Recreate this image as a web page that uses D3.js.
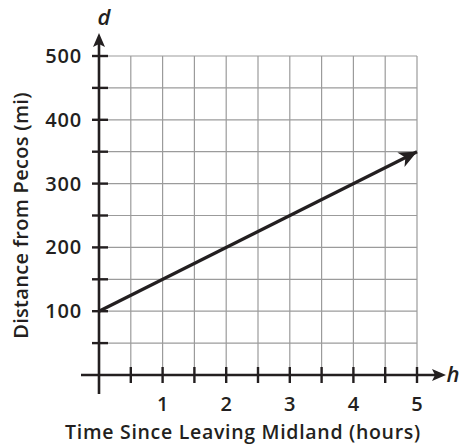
<!DOCTYPE html>
<html><head><meta charset="utf-8">
<script src="https://cdn.jsdelivr.net/npm/d3@7"></script>
<style>body{margin:0;background:#fff}svg{display:block}text{font-family:"Open Sans",sans-serif;fill:#231f20}</style>
</head><body><svg id="c" width="459" height="446"></svg>
<script>
const xTicks = [1, 2, 3, 4, 5];
const yTicks = [100, 200, 300, 400, 500];
const lineH = [0, 5];
const lineD = [100, 350];
const xLabel = "Time Since Leaving Midland (hours)";
const yLabel = "Distance from Pecos (mi)";

const svg = d3.select("#c");
const x = d3.scaleLinear().domain([0, 5]).range([99, 417]);
const y = d3.scaleLinear().domain([0, 500]).range([375, 56]);
const ink = "#231f20";

const g = svg.append("g");
const xg = d3.range(1, 11).map(i => i * 0.5);
const yg = d3.range(1, 11).map(i => i * 50);
g.selectAll(".vg").data(xg).enter().append("line")
  .attr("x1", d => x(d)).attr("x2", d => x(d)).attr("y1", y(0)).attr("y2", y(500))
  .attr("stroke", "#9b9b9b").attr("stroke-width", 1.2);
g.selectAll(".hg").data(yg).enter().append("line")
  .attr("x1", x(0)).attr("x2", x(5)).attr("y1", d => y(d)).attr("y2", d => y(d))
  .attr("stroke", "#9b9b9b").attr("stroke-width", 1.2);

// axes
g.append("line").attr("x1", 81).attr("x2", 436).attr("y1", y(0)).attr("y2", y(0)).attr("stroke", ink).attr("stroke-width", 2.6);
g.append("path").attr("d", `M446,${y(0)} L432,${y(0)-6} L435,${y(0)} L432,${y(0)+6} Z`).attr("fill", ink);
g.append("line").attr("x1", x(0)).attr("x2", x(0)).attr("y1", 394).attr("y2", 44).attr("stroke", ink).attr("stroke-width", 2.6);
g.append("path").attr("d", `M${x(0)},33 L${x(0)-6},47 L${x(0)},44 L${x(0)+6},47 Z`).attr("fill", ink);

// ticks
g.selectAll(".xt").data(xg).enter().append("line")
  .attr("x1", d => x(d)).attr("x2", d => x(d)).attr("y1", y(0) - 8).attr("y2", y(0) + 8)
  .attr("stroke", ink).attr("stroke-width", 2.4);
g.selectAll(".yt").data(yg).enter().append("line")
  .attr("x1", x(0) - 7).attr("x2", x(0) + 9).attr("y1", d => y(d)).attr("y2", d => y(d))
  .attr("stroke", ink).attr("stroke-width", 2.4);

g.selectAll(".xl").data(xTicks).enter().append("text")
  .attr("x", d => x(d)).attr("y", 411).attr("text-anchor", "middle")
  .attr("font-size", 20).attr("font-weight", 600).text(d => d);
g.selectAll(".yl").data(yTicks).enter().append("text")
  .attr("x", 82).attr("y", d => y(d) + 7).attr("text-anchor", "end")
  .attr("font-size", 20).attr("font-weight", 600).attr("letter-spacing", 0.8).text(d => d);

g.append("text").attr("x", 243).attr("y", 439).attr("text-anchor", "middle")
  .attr("font-size", 19.5).attr("font-weight", 600).attr("letter-spacing", 0.7).text(xLabel);
g.append("text").attr("transform", `translate(28,${y(250)}) rotate(-90)`).attr("text-anchor", "middle")
  .attr("font-size", 20).attr("font-weight", 600).attr("letter-spacing", 0.3).text(yLabel);

g.append("text").attr("x", 104).attr("y", 25).attr("text-anchor", "middle")
  .attr("font-size", 22).attr("font-style", "italic").attr("font-weight", 600).text("d");
g.append("text").attr("x", 453).attr("y", y(0) + 7).attr("text-anchor", "middle")
  .attr("font-size", 22).attr("font-style", "italic").attr("font-weight", 600).text("h");

// data line
const ln = d3.line().x(d => x(d[0])).y(d => y(d[1]));
g.append("path").datum(lineH.map((h, i) => [h, lineD[i]])).attr("d", ln)
  .attr("fill", "none").attr("stroke", ink).attr("stroke-width", 3.2);
const end = [x(lineH[1]), y(lineD[1])];
const st = [x(lineH[0]), y(lineD[0])];
const ang = Math.atan2(end[1]-st[1], end[0]-st[0]) * 180 / Math.PI;
g.append("path").attr("d", "M0,0 L-18,-8 L-13,0 L-18,8 Z").attr("fill", ink)
  .attr("transform", `translate(${end[0]},${end[1]}) rotate(${ang})`);
</script></body></html>
